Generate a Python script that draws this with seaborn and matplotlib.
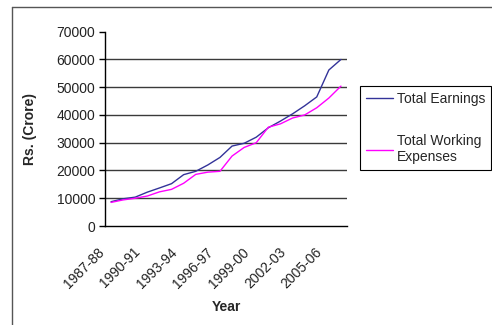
import matplotlib
matplotlib.use("Agg")
import matplotlib.pyplot as plt
import matplotlib.transforms as mtransforms
from matplotlib.lines import Line2D
import seaborn as sns
import pandas as pd
import numpy as np

years = ["1987-88", "1988-89", "1989-90", "1990-91", "1991-92", "1992-93",
         "1993-94", "1994-95", "1995-96", "1996-97", "1997-98", "1998-99",
         "1999-00", "2000-01", "2001-02", "2002-03", "2003-04", "2004-05",
         "2005-06", "2006-07"]
total_earnings = [8750, 9800, 10400, 12200, 13700, 15250, 18500, 19700, 22000,
                  24700, 28800, 29800, 32000, 35400, 37800, 40400, 43300,
                  46500, 56200, 60000]
total_working_expenses = [8500, 9400, 10000, 10800, 12300, 13200, 15400, 18600,
                          19400, 19700, 25200, 28300, 30000, 35600, 36800,
                          38900, 40000, 42600, 46100, 50400]
series_names = ["Total Earnings", "Total Working\nExpenses"]
y_ticks = [0, 10000, 20000, 30000, 40000, 50000, 60000, 70000]

sns.set_style("white")
plt.rcParams["font.family"] = ["Liberation Sans", "DejaVu Sans"]

df = pd.DataFrame({
    "idx": list(range(len(years))) * 2,
    "value": total_earnings + total_working_expenses,
    "series": [series_names[0]] * len(years) + [series_names[1]] * len(years),
})

W, H = 492, 325
fig = plt.figure(figsize=(W / 100, H / 100), dpi=100)
ax = fig.add_axes([105 / W, 1 - 226 / H, (347 - 105) / W, (226 - 31.7) / H])

# horizontal gridlines (no line at the top value)
for v in y_ticks[1:-1]:
    ax.axhline(v, color="#3a3a3a", lw=1.0, zorder=1)

sns.lineplot(data=df, x="idx", y="value", hue="series",
             palette=["#333399", "#FF00FF"], linewidth=1.0, ax=ax,
             legend=False, zorder=3)

ax.set_xlim(-0.5, len(years) - 0.5)
ax.set_ylim(0, 70000)
ax.set_yticks(y_ticks)
ax.set_yticklabels([str(v) for v in y_ticks], fontsize=10, color="#222222")

# category boundary ticks; every third year is labelled below its category
ax.set_xticks(np.arange(-0.5, len(years), 1.0))
ax.set_xticklabels([])
ax.tick_params(axis="x", length=4, width=1, color="black", direction="out")
ax.tick_params(axis="y", length=4, width=1, color="black", direction="out",
               pad=3, left=True)
label_tf = ax.get_xaxis_transform() + mtransforms.ScaledTranslation(
    -14 / 100, -19 / 100, fig.dpi_scale_trans)
for i in range(0, len(years), 3):
    ax.text(i, 0, years[i], transform=label_tf, rotation=45, ha="right",
            va="top", rotation_mode="anchor", fontsize=10, color="#222222")

for s in ["top", "right"]:
    ax.spines[s].set_visible(False)
for s in ["left", "bottom"]:
    ax.spines[s].set_color("black")
    ax.spines[s].set_linewidth(1.0)

ax.set_xlabel("Year", fontsize=10, fontweight="bold")
ax.set_ylabel("Rs. (Crore)", fontsize=10, fontweight="bold")
ax.xaxis.set_label_coords(0.5, -(300 - 226) / (226 - 31.7))
ax.yaxis.set_label_coords(-(105 - 37) / (347 - 105), 0.5)

handles = [Line2D([0], [0], color="#333399", lw=1.0),
           Line2D([0], [0], color="#FF00FF", lw=1.0)]
leg = fig.legend(handles, series_names, loc="upper left",
                 bbox_to_anchor=(360 / W, 1 - 86 / H), fontsize=10,
                 frameon=True, fancybox=False, edgecolor="black",
                 framealpha=1, handlelength=1.9, handletextpad=0.3,
                 labelspacing=2.0, borderpad=0.45, borderaxespad=0)
leg.get_frame().set_linewidth(0.8)

# chart-area border
fig.add_artist(Line2D([12 / W, 1], [1 - 7 / H, 1 - 7 / H], color="#555555",
                      lw=1.0, transform=fig.transFigure))
fig.add_artist(Line2D([12 / W, 12 / W], [0, 1 - 7 / H], color="#555555",
                      lw=1.0, transform=fig.transFigure))

fig.savefig("out.png", dpi=100)
